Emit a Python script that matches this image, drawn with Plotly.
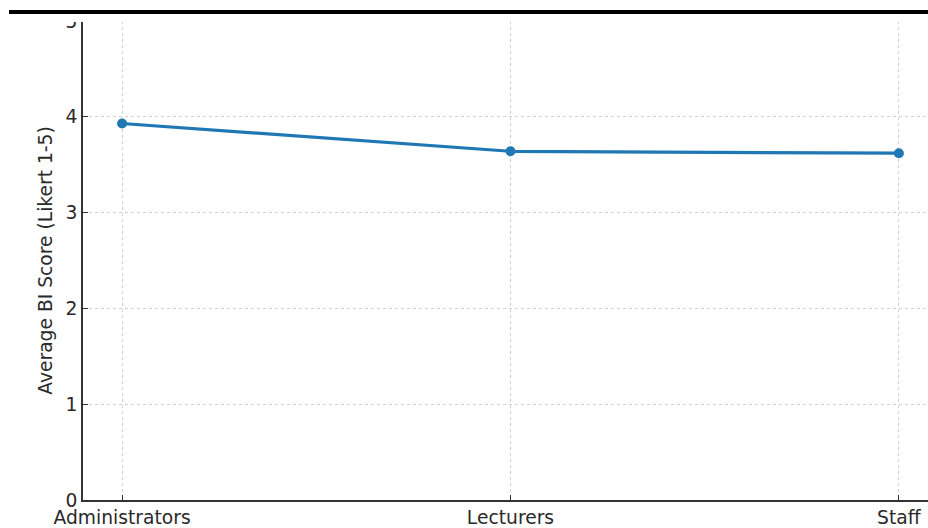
import plotly.graph_objects as go

categories = ["Administrators", "Lecturers", "Staff"]
scores = [3.93, 3.64, 3.62]
y_ticks = [0, 1, 2, 3, 4, 5]

W, H = 928, 528
ML, MR, MT, MB = 83, 0, 21, 25
PW, PH = W - ML - MR, H - MT - MB

def px_x(x):
    return (x - ML) / PW

def px_y(y):
    return (H - MB - y) / PH

fig = go.Figure()
fig.add_trace(go.Scatter(
    x=list(range(len(categories))), y=scores, mode="lines+markers",
    line=dict(color="#1f77b4", width=3.2),
    marker=dict(color="#1f77b4", size=10),
    cliponaxis=False, showlegend=False,
))

font = dict(family="DejaVu Sans", size=18.7, color="#2a2a2a")

fig.update_layout(
    width=W, height=H,
    margin=dict(l=ML, r=MR, t=MT, b=MB, pad=0),
    paper_bgcolor="white", plot_bgcolor="white",
    font=font,
    xaxis=dict(
        range=[-0.1006, 2.075],
        tickmode="array", tickvals=list(range(len(categories))), ticktext=categories,
        showgrid=True, gridcolor="#d0d0d0", griddash="dot", gridwidth=1,
        showline=True, linecolor="#333333", linewidth=1.5,
        ticks="inside", ticklen=5, tickcolor="#333333",
        zeroline=False, tickfont=font,
    ),
    yaxis=dict(
        range=[0, 5],
        tickmode="array", tickvals=y_ticks,
        showgrid=True, gridcolor="#d0d0d0", griddash="dot", gridwidth=1,
        showline=True, linecolor="#333333", linewidth=1.5,
        ticks="inside", ticklen=5, tickcolor="#333333",
        zeroline=False, tickfont=font,
        title=dict(text="Average BI Score (Likert 1-5)", font=font, standoff=8),
    ),
    shapes=[
        dict(type="rect", xref="paper", yref="paper", layer="above",
             x0=px_x(0), x1=px_x(W), y0=px_y(22), y1=px_y(0),
             fillcolor="white", line=dict(width=0)),
        dict(type="rect", xref="paper", yref="paper", layer="above",
             x0=px_x(9), x1=px_x(W), y0=px_y(14), y1=px_y(10),
             fillcolor="black", line=dict(width=0)),
    ],
)

fig.write_html(
    "out.html",
    config={"displayModeBar": False},
    post_script="document.body.style.margin='0';document.body.style.overflow='hidden';",
)
